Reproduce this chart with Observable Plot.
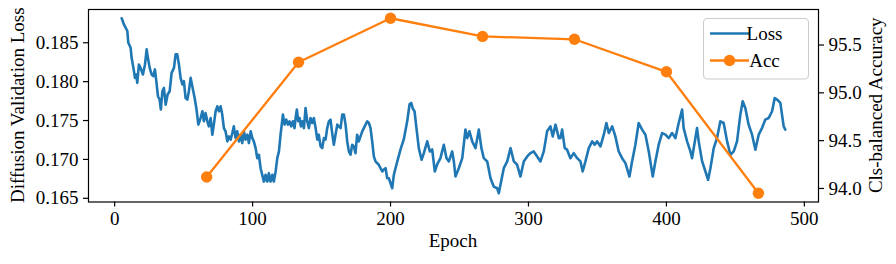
<!DOCTYPE html>
<html>
<head>
<meta charset="utf-8">
<script src="https://cdn.jsdelivr.net/npm/d3@7"></script>
<script src="https://cdn.jsdelivr.net/npm/@observablehq/plot@0.6"></script>
<style>
  html, body { margin: 0; padding: 0; background: #fff; }
</style>
</head>
<body>
<div id="chart"></div>
<script>
// Diffusion validation loss per epoch: [epoch, loss]
const lossPoints = [
[5.1,.18815],[6.7,.18737],[9.2,.18651],[9.9,.18500],[11.6,.18435],[12.3,.18306],[14.0,.18135],[14.7,.18048],[15.7,.18092],[16.4,.17984],[17.6,.18221],[18.8,.18177],[20.5,.18092],[22.0,.18221],[23.2,.18415],[24.1,.18306],[25.4,.18177],[26.8,.18092],[28.0,.18070],[29.2,.18157],[30.2,.18006],[31.4,.17812],[32.6,.17770],[33.5,.17641],[34.6,.17877],[35.7,.17919],[37.0,.17705],[38.4,.17834],[39.9,.17877],[41.3,.18113],[43.0,.18177],[44.2,.18350],[45.4,.18350],[46.6,.18221],[47.8,.18048],[49.1,.17963],[50.2,.18006],[51.4,.17790],[52.7,.17770],[53.8,.17877],[55.1,.18048],[56.3,.17941],[58.0,.17790],[59.2,.17661],[60.7,.17447],[62.3,.17532],[63.6,.17619],[64.7,.17490],[65.9,.17597],[67.2,.17490],[68.3,.17425],[69.6,.17532],[70.8,.17318],[71.9,.17447],[73.2,.17619],[74.4,.17683],[75.6,.17619],[76.8,.17683],[78.0,.17576],[79.2,.17403],[80.4,.17361],[81.7,.17232],[82.8,.17296],
[84.1,.17254],[85.3,.17339],[86.4,.17425],[87.7,.17274],[88.9,.17361],[90.1,.17232],[91.3,.17318],[92.5,.17210],[93.7,.17361],[94.9,.17254],[96.2,.17318],[97.3,.17210],[98.6,.17361],[99.8,.17274],[100.9,.17232],[102.2,.17145],[103.4,.17016],[104.6,.17060],[105.8,.16887],[107.0,.16802],[108.2,.16715],[109.4,.16802],[110.7,.16715],[111.8,.16823],[113.0,.16715],[114.3,.16802],[115.4,.16715],[116.7,.16845],[117.9,.17016],[119.1,.17103],[120.3,.17322],[122.0,.17576],[123.2,.17447],[124.4,.17512],[125.6,.17447],[126.8,.17490],[128.0,.17425],[129.2,.17490],[130.4,.17403],[131.2,.17532],[132.1,.17641],[133.1,.17490],[134.1,.17532],[135.0,.17425],[136.0,.17490],[137.2,.17403],[138.4,.17661],[139.6,.17490],[140.8,.17403],[142.0,.17532],[143.3,.17468],[144.4,.17532],[145.7,.17403],[146.9,.17254],[148.0,.17318],[149.3,.17167],[150.5,.17145],[151.7,.17274],[152.9,.17254],[154.1,.17403],[155.3,.17490],[156.5,.17512],[157.7,.17339],[158.9,.17189],[160.1,.17318],[161.4,.17447],[162.5,.17425],
[163.8,.17403],[165.0,.17576],[166.2,.17576],[167.4,.17447],[168.6,.17232],[169.8,.17103],[171.0,.17060],[172.2,.17189],[173.4,.17167],[174.6,.17081],[175.8,.17318],[177.0,.17232],[179.5,.17361],[181.9,.17447],[183.1,.17490],[184.3,.17468],[185.5,.17403],[186.7,.17232],[187.9,.17038],[189.1,.16974],[191.5,.16931],[194.0,.16845],[195.1,.16870],[196.4,.16887],[197.6,.16758],[198.8,.16758],[200.0,.16694],[201.2,.16629],[202.4,.16802],[203.6,.16887],[204.9,.16974],[207.2,.17125],[209.6,.17257],[212.1,.17490],[213.8,.17709],[215.0,.17726],[216.2,.17651],[217.4,.17619],[218.8,.17403],[220.5,.17145],[222.5,.16995],[224.1,.17077],[226.6,.17232],[228.5,.17103],[230.2,.17128],[232.1,.16845],[233.8,.16935],[236.2,.17016],[237.4,.17103],[238.6,.17189],[240.6,.17016],[242.3,.16974],
[244.7,.17103],[245.9,.16974],[247.1,.16780],[249.5,.16887],[252.0,.17016],[254.3,.17383],[255.6,.17274],[257.2,.17361],[259.2,.17232],[261.6,.17145],[264.0,.17383],[265.9,.17145],[267.6,.17016],[270.1,.16974],[272.5,.16758],[274.8,.16651],[277.3,.16629],[278.5,.16565],[279.7,.16673],[282.1,.16887],[284.6,.16974],[287.0,.17145],[289.4,.16974],[291.8,.16931],[294.2,.16780],[296.6,.16974],[299.1,.17038],[301.4,.17081],[303.8,.17103],[306.3,.17038],[308.7,.16974],[311.1,.17103],[313.5,.17361],[315.9,.17425],[317.6,.17296],[319.6,.17447],
[320.8,.17361],[322.0,.17274],[323.2,.17274],[324.4,.17383],[326.3,.17145],[328.0,.17125],[330.4,.17016],[332.8,.17081],[335.3,.17016],[337.7,.16974],[339.3,.16845],[341.3,.16974],[343.7,.17145],[346.2,.17232],[348.0,.17189],[349.8,.17232],[352.2,.17167],[354.6,.17318],[356.5,.17468],[358.2,.17339],[360.7,.17425],[363.0,.17296],[365.4,.17103],[367.9,.17016],[370.3,.16952],[373.2,.16780],[375.1,.16974],[377.5,.17189],[379.9,.17468],[382.4,.17383],[384.8,.17318],[387.2,.17103],[390.1,.16780],[392.0,.16974],[394.4,.17189],[396.9,.17339],[399.3,.17318],
[401.7,.17274],[404.1,.17339],[406.5,.17274],[408.9,.17468],[411.4,.17641],[412.5,.17403],[415.0,.17232],[417.4,.17103],[418.6,.17016],[421.0,.17274],[422.2,.17403],[423.4,.17232],[425.9,.16974],[428.3,.16845],[430.2,.16737],[431.9,.16887],[434.3,.17145],[436.7,.17274],[439.1,.17490],[441.5,.17468],[444.0,.17232],[446.4,.17060],[448.8,.17103],[451.2,.17232],[453.6,.17576],[455.3,.17748],[457.2,.17661],[459.6,.17447],[462.1,.17318],[464.5,.17125],[466.9,.17318],[469.3,.17403],[471.7,.17512],[474.1,.17532],[476.6,.17619],[478.5,.17790],[480.2,.17770],[482.6,.17726],[483.8,.17576],[485.0,.17425],[486.2,.17383]
];

// Classification balanced accuracy at evaluation epochs
const accEpochs = [66.7, 133.3, 200, 266.7, 333.3, 400, 466.7];
const accValues = [94.12, 95.32, 95.78, 95.59, 95.56, 95.22, 93.95];

// Tick labels
const xTicks = [0, 100, 200, 300, 400, 500];
const lossTicks = [0.165, 0.170, 0.175, 0.180, 0.185];
const accTicks = [94.0, 94.5, 95.0, 95.5];

const labels = {
  x: "Epoch",
  yLeft: "Diffusion Validation Loss",
  yRight: "Cls-balanced Accuracy",
  loss: "Loss",
  acc: "Acc"
};

const BLUE = "#1f77b4", ORANGE = "#ff7f0e";
const FONT = "'Liberation Serif', 'Times New Roman', serif";

// matplotlib-like 5% margins
function padded(ext) { const r = ext[1] - ext[0]; return [ext[0] - 0.05 * r, ext[1] + 0.05 * r]; }
const lossData = lossPoints.map(([epoch, loss]) => ({epoch, loss}));
const accData = accEpochs.map((epoch, i) => ({epoch, acc: accValues[i]}));

const xDom = padded(d3.extent([...lossData.map(d => d.epoch), ...accEpochs]));
const lossDom = padded(d3.extent(lossData, d => d.loss));
const accDom = padded(d3.extent(accValues));

// map accuracy onto the loss (left) scale for twin axis
const accToLoss = a => lossDom[0] + (a - accDom[0]) / (accDom[1] - accDom[0]) * (lossDom[1] - lossDom[0]);
const lossToAcc = l => accDom[0] + (l - lossDom[0]) / (lossDom[1] - lossDom[0]) * (accDom[1] - accDom[0]);

const W = 896, H = 264;
const mL = 88, mR = 78, mT = 9, mB = 62.5;

const svg = Plot.plot({
  width: W, height: H,
  marginLeft: mL, marginRight: mR, marginTop: mT, marginBottom: mB,
  style: {fontFamily: FONT, fontSize: "19px", color: "#000", background: "#fff"},
  x: {domain: xDom},
  y: {domain: lossDom},
  marks: [
    Plot.line(lossData, {x: "epoch", y: "loss", stroke: BLUE, strokeWidth: 2.6, strokeLinejoin: "round"}),
    Plot.line(accData, {x: "epoch", y: d => accToLoss(d.acc), stroke: ORANGE, strokeWidth: 2.3}),
    Plot.dot(accData, {x: "epoch", y: d => accToLoss(d.acc), r: 5.7, fill: ORANGE, stroke: "none"}),
    Plot.frame({stroke: "#000", strokeWidth: 1.2}),
    Plot.axisX({ticks: xTicks, tickSize: 5, tickPadding: 4, label: null, tickFormat: d => String(d), strokeWidth: 1.2}),
    Plot.axisY({anchor: "left", ticks: lossTicks, tickSize: 5, tickPadding: 5, label: null, tickFormat: d => d.toFixed(3), strokeWidth: 1.2}),
    Plot.axisY({anchor: "right", ticks: accTicks.map(accToLoss), tickSize: 5, tickPadding: 5, label: null, tickFormat: d => lossToAcc(d).toFixed(1), strokeWidth: 1.2})
  ]
});

document.getElementById("chart").appendChild(svg);

const s = d3.select(svg);
const plotLeft = mL, plotRight = W - mR, plotTop = mT, plotBottom = H - mB;
const cy = (plotTop + plotBottom) / 2;

s.append("text").attr("x", (plotLeft + plotRight) / 2).attr("y", 247)
  .attr("text-anchor", "middle").attr("font-family", FONT).attr("font-size", 19).attr("fill", "#000")
  .text(labels.x);
s.append("text").attr("transform", `translate(24,${cy}) rotate(-90)`)
  .attr("text-anchor", "middle").attr("font-family", FONT).attr("font-size", 19).attr("fill", "#000")
  .text(labels.yLeft);
s.append("text").attr("transform", `translate(882,${cy}) rotate(-90)`)
  .attr("text-anchor", "middle").attr("font-family", FONT).attr("font-size", 19).attr("fill", "#000")
  .text(labels.yRight);

// legend (upper right)
const lg = s.append("g");
const bx = 703.5, by = 18.5, bw = 105, bh = 60.5;
lg.append("rect").attr("x", bx).attr("y", by).attr("width", bw).attr("height", bh)
  .attr("rx", 4).attr("fill", "#fff").attr("fill-opacity", 0.8).attr("stroke", "#cccccc").attr("stroke-width", 1.1);
const rows = [{label: labels.loss, color: BLUE, marker: false, y: 33.5},
              {label: labels.acc, color: ORANGE, marker: true, y: 60.5}];
rows.forEach(r => {
  lg.append("line").attr("x1", 710).attr("x2", 749).attr("y1", r.y).attr("y2", r.y)
    .attr("stroke", r.color).attr("stroke-width", r.marker ? 2.3 : 2.6);
  if (r.marker) lg.append("circle").attr("cx", 729.5).attr("cy", r.y).attr("r", 5.7).attr("fill", r.color);
  lg.append("text").attr("x", 764.5).attr("y", r.y + 6.5).attr("font-family", FONT).attr("font-size", 19)
    .attr("fill", "#000").text(r.label);
});
</script>
</body>
</html>
